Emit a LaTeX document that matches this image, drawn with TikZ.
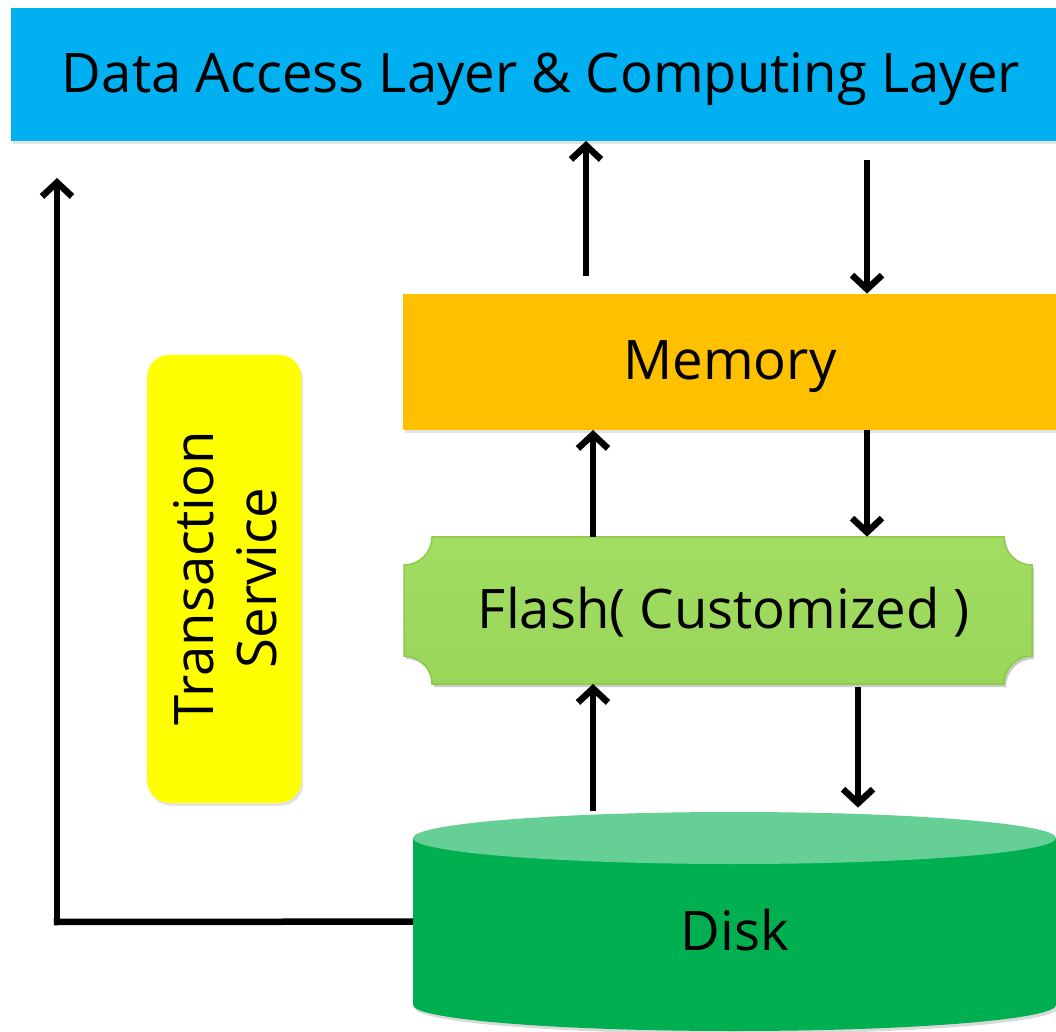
\documentclass[tikz,border=0pt]{standalone}
\usepackage{fontspec}
\setmainfont{Open Sans}
\usetikzlibrary{arrows.meta,shadows}
\definecolor{topblue}{HTML}{00B0F0}
\definecolor{memorange}{HTML}{FFC000}
\definecolor{flashgreen}{HTML}{9EDC5C}
\definecolor{flashdark}{HTML}{8ACB48}
\definecolor{diskgreen}{HTML}{00B050}
\definecolor{disktop}{HTML}{66CF96}
\definecolor{txyellow}{HTML}{FFFF00}
\tikzset{
  lbl/.style={font=\fontsize{54.5}{63}\selectfont, text=black, inner sep=0pt, align=center},
  shad/.style={drop shadow={opacity=0.22, shadow xshift=2pt, shadow yshift=-3pt}},
  arr/.style={line width=6.5pt, -{Straight Barb[length=14pt,width=30pt]}},
  conn/.style={line width=6.5pt}
}
\begin{document}
\begin{tikzpicture}[x=1pt,y=1pt]
\useasboundingbox (0,0) rectangle (1056,1031);
% top layer
\node[shad, fill=topblue, minimum width=1045, minimum height=133, inner sep=0pt, anchor=south west] (top) at (11,890) {};
\node[lbl, anchor=base] (toptxt) at (541,938) {Data Access Layer \& Computing Layer};
% memory
\node[shad, fill=memorange, minimum width=653, minimum height=136, inner sep=0pt, anchor=south west] (mem) at (403,601) {};
\node[lbl, anchor=base] (memtxt) at (730,651) {Memory};
% flash
\def\fr{28}
\fill[black, opacity=0.2] (434,491) -- (1006,491) arc[start angle=180,end angle=270,radius=\fr] -- (1034,372) arc[start angle=90,end angle=180,radius=\fr] -- (434,344) arc[start angle=0,end angle=90,radius=\fr] -- (406,463) arc[start angle=270,end angle=360,radius=\fr] -- cycle;
\shade[top color=flashgreen!96!white, bottom color=flashgreen!97!black, draw=flashdark, line width=1.5pt]
  (432,494) -- (1004,494) arc[start angle=180,end angle=270,radius=\fr] -- (1032,375) arc[start angle=90,end angle=180,radius=\fr] -- (432,347) arc[start angle=0,end angle=90,radius=\fr] -- (404,466) arc[start angle=270,end angle=360,radius=\fr] -- cycle;
\node[minimum width=628, minimum height=147, inner sep=0pt, anchor=south west] (flash) at (404,347) {};
\node[lbl, anchor=base] (flashtxt) at (724,402) {Flash( Customized )};
% disk
\fill[black, opacity=0.15] (415,190) -- (415,23) arc[start angle=180,end angle=360,x radius=321.5,y radius=26] -- (1058,190) -- cycle;
\fill[diskgreen] (413,193) -- (413,26) arc[start angle=180,end angle=360,x radius=321.5,y radius=26] -- (1056,193) -- cycle;
\fill[disktop] (734.5,193) ellipse[x radius=321.5, y radius=26];
\node[minimum width=643, minimum height=167, inner sep=0pt, anchor=south west] (disk) at (413,26) {};
\node[lbl, anchor=base] (disktxt) at (735,81) {Disk};
% transaction service
\node[shad, fill=txyellow, rounded corners=22pt, minimum width=154, minimum height=448, inner sep=0pt, anchor=south west] (tx) at (147,228) {};
\node[lbl, rotate=90] (txtxt) at (225,453) {Transaction\\Service};
% arrows
\coordinate (c1) at (586,0);
\coordinate (c2) at (867,0);
\coordinate (c3) at (593,0);
\coordinate (c4) at (858,0);
\draw[arr] ([yshift=18pt]mem.north -| c1) -- (top.south -| c1);
\draw[arr] ([yshift=-19pt]top.south -| c2) -- (mem.north -| c2);
\draw[arr] (flash.north -| c3) -- (mem.south -| c3);
\draw[arr] (mem.south -| c2) -- (flash.north -| c2);
\draw[arr] ([yshift=27pt]disk.north -| c3) -- (flash.south -| c3);
\draw[arr] ([yshift=-3pt]flash.south -| c4) -- ([yshift=30pt]disk.north -| c4);
\coordinate (corner) at (57,109);
\coordinate (txend) at (57,853);
\draw[conn] ([yshift=-84pt]disk.north west) -- ([xshift=-3.25pt]corner);
\draw[arr] ([yshift=-3.25pt]corner) -- (txend);
\end{tikzpicture}
\end{document}
